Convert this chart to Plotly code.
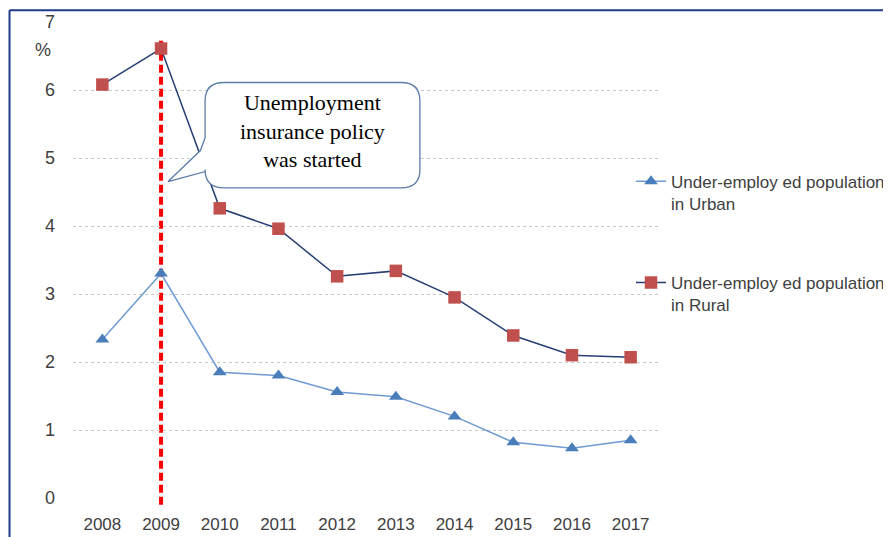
import plotly.graph_objects as go

years = [2008, 2009, 2010, 2011, 2012, 2013, 2014, 2015, 2016, 2017]
urban = [2.33, 3.30, 1.85, 1.80, 1.56, 1.49, 1.20, 0.82, 0.73, 0.85]
rural = [6.08, 6.61, 4.26, 3.96, 3.26, 3.34, 2.95, 2.39, 2.10, 2.07]
y_ticks = [0, 1, 2, 3, 4, 5, 6, 7]
urban_name = "Under-employ ed population<br>in Urban"
rural_name = "Under-employ ed population<br>in Rural"
policy_year = 2009
callout_text = "Unemployment<br>insurance policy<br>was started"

# page has an 8px body margin; plot area target (screen px): left 73, right 660, top 22.3, bottom 498.3
OFF = 8
PL, PR, PT, PB = 73, 660, 22.3, 498.3
PW, PH = PR - PL, PB - PT


def px(x):
    return (x - PL) / PW


def py(y):
    return (PB - y) / PH


fig = go.Figure()
fig.add_trace(go.Scatter(
    x=years, y=urban, name=urban_name, mode="lines+markers",
    line=dict(color="#6f9bd2", width=1.5),
    marker=dict(symbol="triangle-up", size=12, color="#4a7ebb"),
    legendgroup="u"))
fig.add_trace(go.Scatter(
    x=years, y=rural, name=rural_name, mode="lines+markers",
    line=dict(color="#263f73", width=1.5),
    marker=dict(symbol="square", size=12.5, color="#c0504d"),
    legendgroup="r"))

# callout bubble (data coords)
x0, x1, y0, y1 = 2009.75, 2013.41, 4.56, 6.11
rx, ry = 0.32, 0.27
tip = (2009.12, 4.654)
path = (f"M {x0+rx},{y1} L {x1-rx},{y1} Q {x1},{y1} {x1},{y1-ry} "
        f"L {x1},{y0+ry} Q {x1},{y0} {x1-rx},{y0} L {x0+rx},{y0} "
        f"Q {x0},{y0} {x0},{y0+ry} L {x0},{4.80} L {tip[0]},{tip[1]} "
        f"L {x0-0.08},{5.11} L {x0},{5.3} L {x0},{y1-ry} Q {x0},{y1} {x0+rx},{y1} Z")
fig.add_shape(type="path", path=path, xref="x", yref="y",
              fillcolor="white", line=dict(color="#5a7ca8", width=1.3), layer="above")
fig.add_annotation(x=(x0 + x1) / 2, y=5.39, xref="x", yref="y", text=callout_text,
                   showarrow=False, font=dict(family="Liberation Serif", size=22, color="black"))

# red dashed policy line
fig.add_shape(type="line", x0=policy_year, x1=policy_year, xref="x", yref="paper",
              y0=py(505), y1=py(37), line=dict(color="#ff0000", width=4, dash="8px,4px"),
              layer="between")

# outer frame (top and left)
fig.add_shape(type="line", xref="paper", yref="paper", x0=px(9.5), x1=1.6, y0=py(10.5), y1=py(10.5),
              line=dict(color="#1f3c88", width=2))
fig.add_shape(type="line", xref="paper", yref="paper", x0=px(9.5), x1=px(9.5), y0=-0.2, y1=py(10.5),
              line=dict(color="#1f3c88", width=2))

fig.add_annotation(x=px(43), y=py(50), xref="paper", yref="paper", text="%", showarrow=False,
                   xanchor="center", yanchor="middle",
                   font=dict(family="Liberation Sans", size=18, color="#404040"))

fig.update_layout(
    width=891, height=537,
    margin=dict(l=PL - OFF, r=891 - (PR - OFF), t=PT - OFF, b=537 - (PB - OFF), autoexpand=False),
    paper_bgcolor="white", plot_bgcolor="white",
    font=dict(family="Liberation Sans", color="#404040"),
    xaxis=dict(range=[2007.5, 2017.5], tickvals=years, ticktext=[str(y) for y in years],
               showgrid=False, zeroline=False, showline=False, ticks="",
               tickfont=dict(family="Liberation Sans", size=17, color="#404040"),
               ticklabelstandoff=14),
    yaxis=dict(range=[0, 7], tickvals=y_ticks, showgrid=True, gridcolor="#c8c8c8",
               griddash="dot", gridwidth=1, zeroline=False, showline=False, ticks="",
               tickfont=dict(family="Liberation Sans", size=18, color="#404040"),
               ticklabelstandoff=17),
    legend=dict(x=px(631), y=py(164), xanchor="left", yanchor="top",
                font=dict(family="Liberation Sans", size=17, color="#404040"),
                tracegroupgap=54, traceorder="grouped", valign="top", bgcolor="rgba(0,0,0,0)"),
    showlegend=True,
)

fig.write_html("out.html")
